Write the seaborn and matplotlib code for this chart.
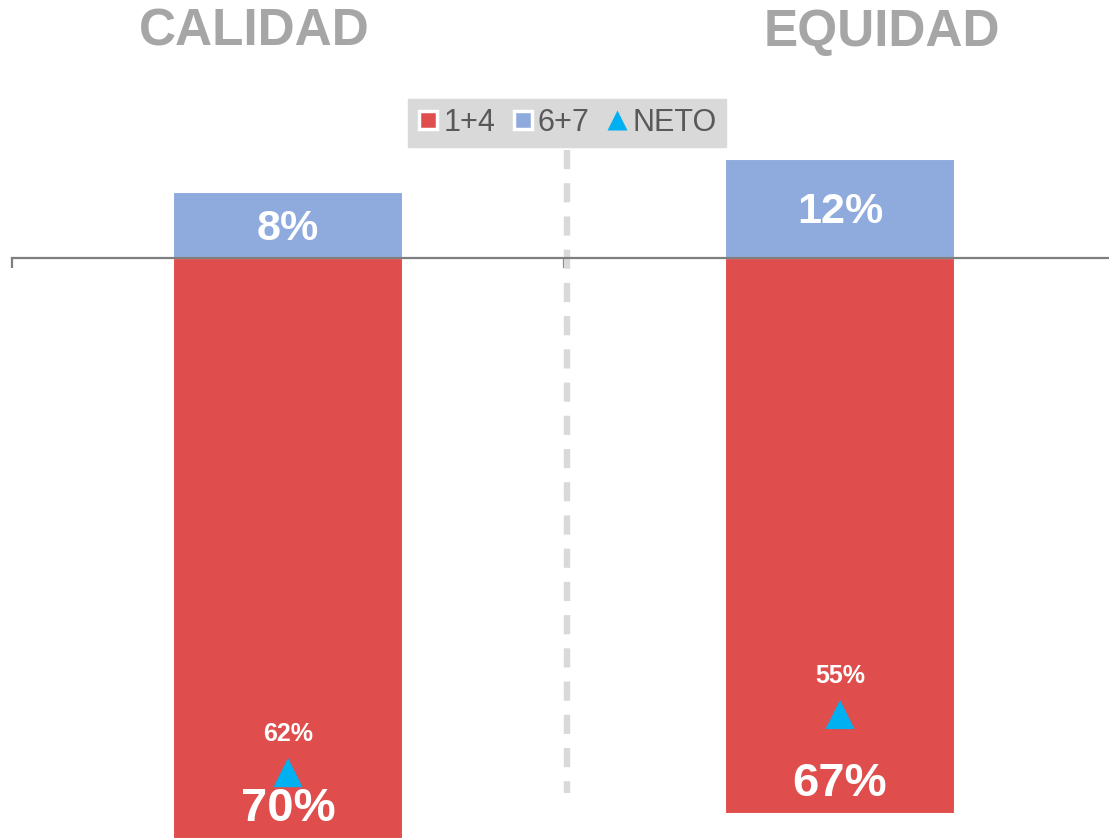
import pandas as pd
import seaborn as sns
import matplotlib.pyplot as plt
from matplotlib.lines import Line2D

# datos
categorias = ["CALIDAD", "EQUIDAD"]
valores_14 = [70, 67]      # 1+4 (se dibuja hacia abajo)
valores_67 = [8, 12]       # 6+7
neto = [62, 55]            # NETO
series = ["1+4", "6+7", "NETO"]

rojo = "#df4d4d"
azul = "#8faadc"
cian = "#00b0f0"

sns.set_theme(style="white")
plt.rcParams["font.family"] = ["Liberation Sans", "DejaVu Sans"]

df = pd.DataFrame({"cat": categorias,
                   "neg": [-v for v in valores_14],
                   "pos": valores_67,
                   "neto": [-v for v in neto]})

fig = plt.figure(figsize=(11.09, 8.39), dpi=100)
ax = fig.add_axes([12 / 1109, 0, 1104 / 1109, 1])

sns.barplot(data=df, x="cat", y="neg", color=rojo, width=0.417, ax=ax,
            edgecolor="white", linewidth=1.5, saturation=1)
sns.barplot(data=df, x="cat", y="pos", color=azul, width=0.417, ax=ax,
            edgecolor="white", linewidth=1.5, saturation=1)
sns.scatterplot(data=df, x="cat", y="neto", marker="^", s=440, color=cian,
                edgecolor="none", ax=ax, zorder=5)

ax.set_xlim(-0.5, 1.5)
ax.set_ylim(-70.0, 31.1)

# linea divisoria punteada
ax.plot([0.505, 0.505], [13.0, -64.5], color="#d9d9d9", lw=4.6,
        linestyle=(0, (3.0, 2.2)), zorder=1)

# etiquetas
for i, v in enumerate(valores_67):
    ax.annotate(f"{v}%", (i, v / 2), xytext=(0, -3), textcoords="offset points",
                ha="center", va="center", color="white",
                fontsize=31, fontweight="bold")
for i, v in enumerate(valores_14):
    ax.annotate(f"{v}%", (i, -v + 4.1), xytext=(0, -3), textcoords="offset points",
                ha="center", va="center", color="white",
                fontsize=34, fontweight="bold")
for i, v in enumerate(neto):
    ax.annotate(f"{v}%", (i, -v), xytext=(0, 28), textcoords="offset points",
                ha="center", va="center", color="white", fontsize=18,
                fontweight="bold")

# eje
for s in ["top", "right", "left"]:
    ax.spines[s].set_visible(False)
ax.spines["bottom"].set_position(("data", 0))
ax.spines["bottom"].set_color("#7f7f7f")
ax.spines["bottom"].set_linewidth(1.6)
ax.spines["bottom"].set_zorder(4)
ax.set_xticks([-0.5, 0.5, 1.5])
ax.set_xticklabels([])
ax.tick_params(axis="x", direction="out", length=7, width=1.6,
               color="#7f7f7f", bottom=True)
ax.set_yticks([])
ax.set_xlabel("")
ax.set_ylabel("")

# titulos
fig.text(254 / 1109, 1 - 32 / 839, categorias[0], ha="center", va="center",
         fontsize=37, fontweight="bold", color="#a6a6a6")
fig.text(882 / 1109, 1 - 32 / 839, categorias[1], ha="center", va="center",
         fontsize=37, fontweight="bold", color="#a6a6a6")

# leyenda
handles = [
    Line2D([], [], marker="s", linestyle="none", markersize=13,
           markerfacecolor=rojo, markeredgecolor="white", markeredgewidth=2.5),
    Line2D([], [], marker="s", linestyle="none", markersize=13,
           markerfacecolor=azul, markeredgecolor="white", markeredgewidth=2.5),
    Line2D([], [], marker="^", linestyle="none", markersize=15,
           markerfacecolor=cian, markeredgecolor="none"),
]
leg = fig.legend(handles, series, loc="center", ncol=3,
                 bbox_to_anchor=(567 / 1109, 1 - 123 / 839),
                 frameon=True, fancybox=False, facecolor="#d9d9d9",
                 edgecolor="#d9d9d9", fontsize=22, handlelength=0.7,
                 handletextpad=0.15, columnspacing=0.55, borderpad=0.3,
                 framealpha=1)
for t in leg.get_texts():
    t.set_color("#595959")

fig.savefig("out.png", dpi=100)
